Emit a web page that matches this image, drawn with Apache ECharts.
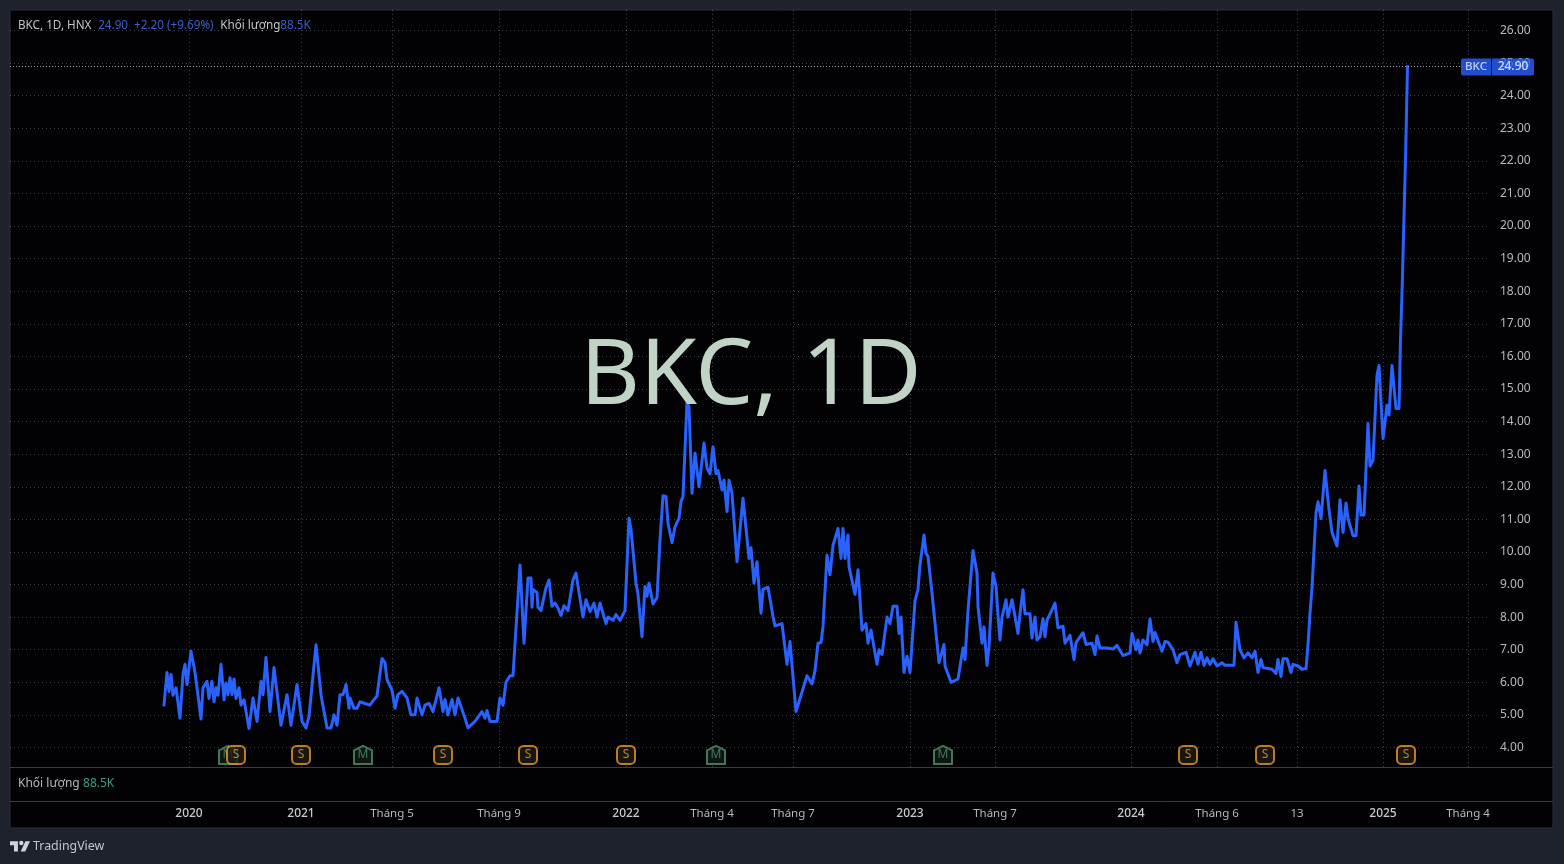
<!DOCTYPE html>
<html>
<head>
<meta charset="utf-8">
<style>html,body{margin:0;padding:0;background:#1e222d}#c{width:1564px;height:864px}</style>
<script src="https://cdn.jsdelivr.net/npm/echarts@6/dist/echarts.min.js"></script>
</head>
<body>
<div id="c"></div>
<script>
const symbolName = 'BKC';
const lastPrice = 24.90;

const barPos = [
164,167,169,171,173,176,180,183,185,187,191,195,197,201,203,207,209,212,214,216,
218,221,224,226,228,230,232,234,236,239,241,244,249,253,257,261,263,266,270,274,
281,287,291,297,302,306,309,316,321,327,331,334,337,340,343,346,349,350,354,357,
360,365,370,373,377,382,385,387,392,395,398,402,407,411,415,417,422,425,429,433,
439,443,445,448,452,455,458,465,468,475,482,485,487,490,497,500,503,506,510,513,
520,524,528,531,532,533,537,538,541,546,549,552,555,558,561,564,568,573,576,578,
583,586,590,594,597,600,606,608,613,616,620,625,629,631,633,636,638,642,645,647,
649,653,657,660,663,666,668,672,675,679,681,683,687,689,692,695,699,704,707,710,
713,716,718,722,724,727,729,732,737,738,743,745,749,751,754,757,761,763,768,773,
775,782,787,790,796,798,801,803,807,812,815,818,821,823,827,830,833,835,838,841,
843,845,848,849,855,858,862,866,868,871,877,879,882,887,890,893,897,899,901,904,
907,910,915,918,920,924,926,928,932,935,939,944,945,951,958,963,965,968,973,977,
978,982,984,987,989,993,996,998,1000,1002,1006,1008,1012,1018,1020,1023,1025,1030,1032,1035,
1037,1040,1043,1045,1047,1055,1058,1063,1065,1070,1074,1076,1083,1086,1092,1095,1097,1100,1107,1113,
1117,1123,1130,1132,1136,1138,1140,1143,1147,1150,1153,1155,1162,1165,1168,1173,1177,1180,1186,1190,
1195,1198,1201,1204,1207,1210,1213,1217,1222,1225,1234,1236,1240,1244,1248,1252,1255,1258,1261,1263,
1272,1276,1278,1281,1283,1287,1291,1293,1298,1302,1306,1308,1310,1312,1316,1318,1321,1325,1329,1332,
1334,1337,1340,1343,1346,1348,1353,1356,1359,1361,1364,1368,1370,1373,1377,1379,1383,1387,1389,1392,
1396,1399,1400.5,1402.3,1404,1405.7,1407.5
];

const closePrice = [
5.30,6.30,5.72,6.24,5.60,5.83,4.90,6.25,6.55,5.93,6.95,6.30,5.83,4.87,5.83,6.03,5.50,6.03,5.40,5.83,
5.60,6.55,5.46,5.98,5.62,6.14,5.62,6.10,5.50,5.83,5.30,5.46,4.58,5.52,4.80,6.03,5.62,6.76,5.10,6.45,
4.68,5.62,4.68,5.93,4.80,4.60,4.95,7.15,5.62,4.60,4.60,5.00,4.68,5.62,5.62,5.93,5.20,5.52,5.20,5.20,
5.40,5.35,5.30,5.43,5.58,6.73,6.60,6.08,5.76,5.20,5.62,5.72,5.52,5.00,5.00,5.52,5.00,5.30,5.35,5.10,
5.83,5.10,5.47,5.00,5.47,5.00,5.52,4.90,4.60,4.80,5.10,4.90,5.13,4.80,4.80,5.52,5.30,6.00,6.20,6.20,
9.60,7.20,9.20,9.20,8.30,8.85,8.75,8.30,8.20,8.90,9.14,8.33,8.43,8.28,8.05,8.35,8.20,9.14,9.35,8.95,
8.00,8.53,8.17,8.43,8.00,8.43,7.80,8.00,7.90,8.08,7.90,8.20,11.03,10.70,10.70,9.04,8.70,7.40,8.94,8.64,
9.04,8.40,8.60,10.37,11.72,11.70,10.88,10.29,10.77,11.03,11.55,11.70,14.60,14.46,11.80,13.03,12.00,13.34,12.57,12.40,
13.23,12.40,12.50,11.90,12.20,11.24,12.20,11.80,9.70,9.70,11.65,11.65,9.80,10.13,9.04,9.70,8.12,8.85,8.92,8.02,
7.73,7.80,6.55,7.25,5.10,5.10,5.60,5.60,6.20,5.95,6.35,7.20,7.22,7.70,9.90,9.30,10.20,10.20,10.72,9.80,
10.72,9.80,10.52,9.55,8.70,9.45,7.60,7.80,7.20,7.60,6.55,7.00,6.85,8.00,7.80,8.33,8.33,7.50,8.00,6.30,
6.80,6.30,8.50,8.85,9.60,10.52,9.96,9.86,8.74,7.82,6.60,7.16,6.50,6.00,6.10,7.05,6.70,8.20,10.04,9.35,
8.33,7.20,7.70,6.52,7.10,9.35,8.94,8.05,7.30,8.00,8.53,8.00,8.53,7.50,8.10,8.84,8.10,8.10,7.36,8.00,
7.30,7.40,7.95,7.40,7.90,8.43,7.67,7.72,7.20,7.44,6.70,7.22,7.52,7.16,7.20,6.85,7.42,7.05,7.05,7.02,
7.13,6.82,6.90,7.50,7.00,7.30,6.90,7.30,7.15,7.94,7.25,7.53,6.95,7.25,7.23,7.00,6.60,6.85,6.92,6.50,
6.92,6.56,6.92,6.52,6.75,6.55,6.72,6.50,6.60,6.52,6.52,7.84,7.00,6.75,6.90,6.75,6.95,6.30,6.70,6.45,
6.40,6.27,6.70,6.18,6.72,6.72,6.30,6.55,6.50,6.40,6.42,7.15,8.12,8.90,11.20,11.54,11.03,12.50,11.30,10.60,
10.65,10.18,11.60,10.60,11.50,11.03,10.50,10.50,12.02,11.13,11.13,13.94,12.63,12.82,15.42,15.72,13.48,14.50,14.20,15.72,
14.40,14.40,16.50,18.25,20.28,22.30,24.90
];

const priceTicks = [4,5,6,7,8,9,10,11,12,13,14,15,16,17,18,19,20,21,22,23,24,25,26];
const timeTickPos = [189,301,392,499,626,712,793,910,995,1131,1217,1297,1383,1468];
const timeTickLabels = ['2020','2021','Tháng 5','Tháng 9','2022','Tháng 4','Tháng 7','2023','Tháng 7','2024','Tháng 6','13','2025','Tháng 4'];
const splitEventPos = [236,301,443,528,626,1188,1265,1406];
const mergeEventPos = [228,363,716,943];
const eventLevel = 3.77;

const FONT = '"Noto Sans", "Open Sans", sans-serif';
const chart = echarts.init(document.getElementById('c'), null, {renderer:'canvas'});

const labelMap = {};
timeTickPos.forEach((p,i)=>labelMap[p]=timeTickLabels[i]);

chart.setOption({
  animation:false,
  backgroundColor:'#1e222d',
  textStyle:{fontFamily:FONT},
  grid:{left:10,width:1477,top:10,height:757,containLabel:false},
  xAxis:{
    type:'value',min:10,max:1487,
    axisLine:{show:false},
    axisTick:{show:false,customValues:timeTickPos},
    splitLine:{show:true,lineStyle:{type:[1,3],color:'rgba(165,170,185,0.38)',width:1}},
    axisLabel:{
      show:true,customValues:timeTickPos,margin:41,hideOverlap:false,
      color:'#b7b9c0',fontSize:11.5,fontFamily:FONT,
      formatter:v=>{const t=labelMap[v];return /^20\d\d$/.test(t)?'{y|'+t+'}':t;},
      rich:{y:{color:'#c8cad0',fontSize:12,fontWeight:500,fontFamily:FONT}}
    }
  },
  yAxis:{
    type:'value',position:'right',min:3.4,max:26.63,
    axisLine:{show:false},
    axisTick:{show:false,customValues:priceTicks},
    splitLine:{show:true,lineStyle:{type:[1,3],color:'rgba(165,170,185,0.38)',width:1}},
    axisLabel:{show:true,customValues:priceTicks,margin:13,color:'#b7b9c0',fontSize:12,fontFamily:FONT,
      formatter:v=>v.toFixed(2)}
  },
  graphic:[
    {type:'rect',z:-10,shape:{x:10,y:10,width:1543,height:818},style:{fill:'#020205',stroke:'#2c2f3a',lineWidth:1}},
    {type:'line',z:5,shape:{x1:10,y1:767.5,x2:1553,y2:767.5},style:{stroke:'#3a3c45',lineWidth:1}},
    {type:'line',z:5,shape:{x1:10,y1:801.5,x2:1553,y2:801.5},style:{stroke:'#3a3c45',lineWidth:1}},
    {type:'text',z:20,x:751,y:378,style:{text:'BKC, 1D',fill:'#c0d4c6',font:'92px '+FONT,textAlign:'center',textVerticalAlign:'middle'}},
    {type:'text',z:20,x:18,y:25.5,style:{
      text:'{a|BKC, 1D, HNX}  {b|24.90  +2.20 (+9.69%)}  {a|Khối lượng}{b|88.5K}',
      textVerticalAlign:'middle',
      rich:{a:{fill:'#c3c5cc',fontSize:11.7,fontFamily:FONT},b:{fill:'#3f5fc8',fontSize:11.7,fontFamily:FONT}}
    }},
    {type:'text',z:20,x:18,y:784,style:{
      text:'{a|Khối lượng} {b|88.5K}',textVerticalAlign:'middle',
      rich:{a:{fill:'#b7b9c0',fontSize:12,fontFamily:FONT},b:{fill:'#3f9c86',fontSize:12,fontFamily:FONT}}
    }},
    {type:'polygon',z:20,shape:{points:[[10,841.2],[17.9,841.2],[17.9,851.4],[14,851.4],[14,845.2],[10,845.2]]},style:{fill:'#d1d4dc'}},
    {type:'polygon',z:20,shape:{points:[[25.4,841.2],[30,841.2],[25.2,851.4],[20.7,851.4]]},style:{fill:'#d1d4dc'}},
    {type:'circle',z:20,shape:{cx:21.3,cy:843,r:2.2},style:{fill:'#d1d4dc'}},
    {type:'text',z:20,x:33,y:846.5,style:{text:'TradingView',fill:'#c3c5cc',font:'12.4px '+FONT,textVerticalAlign:'middle'}}
  ],
  series:[
    {
      type:'line',name:symbolName,z:4,
      data:barPos.map((x,i)=>[x,closePrice[i]]),
      showSymbol:false,symbol:'none',smooth:false,clip:false,
      lineStyle:{color:'#2962ff',width:3,join:'round',cap:'round'},
      markLine:{silent:true,symbol:'none',animation:false,
        lineStyle:{type:[1,2],color:'rgba(205,210,225,0.75)',width:1},
        label:{show:false},data:[{yAxis:lastPrice}]}
    },
    {
      type:'scatter',name:'M',z:6,
      symbol:'path://M0 4.5 L9 0 L18 4.5 L18 18 L0 18 Z',symbolSize:18,
      itemStyle:{color:'#101c15',borderColor:'#4f9468',borderWidth:2},
      label:{show:true,position:'inside',formatter:'M',color:'#4f9468',fontSize:12,fontFamily:FONT},
      data:mergeEventPos.map(x=>[x,eventLevel])
    },
    {
      type:'scatter',name:'S',z:7,
      symbol:'roundRect',symbolSize:18,
      itemStyle:{color:'#1f1a12',borderColor:'#e8982e',borderWidth:2},
      label:{show:true,position:'inside',formatter:'S',color:'#e8a040',fontSize:12,fontFamily:FONT},
      data:splitEventPos.map(x=>[x,eventLevel])
    },
    {
      type:'scatter',name:'tag',z:10,symbolSize:1,itemStyle:{color:'transparent'},
      data:[[1460.5,lastPrice]],
      label:{show:true,position:'right',distance:0,offset:[0,0.5],
        formatter:()=>'{n|'+symbolName+'}{s| }{v|'+lastPrice.toFixed(2)+'}',
        rich:{
          n:{backgroundColor:'#2962ff',color:'#e8eeff',fontSize:11.5,fontWeight:500,fontFamily:FONT,width:30,height:17,lineHeight:17,align:'center',borderRadius:[2,0,0,2]},
          s:{backgroundColor:'#0b1440',width:1,height:17,lineHeight:17,fontSize:1},
          v:{backgroundColor:'#2962ff',color:'#ffffff',fontSize:12,fontWeight:500,fontFamily:FONT,width:42,height:17,lineHeight:17,align:'center',borderRadius:[0,2,2,0]}
        }
      }
    }
  ]
});
</script>
</body>
</html>
